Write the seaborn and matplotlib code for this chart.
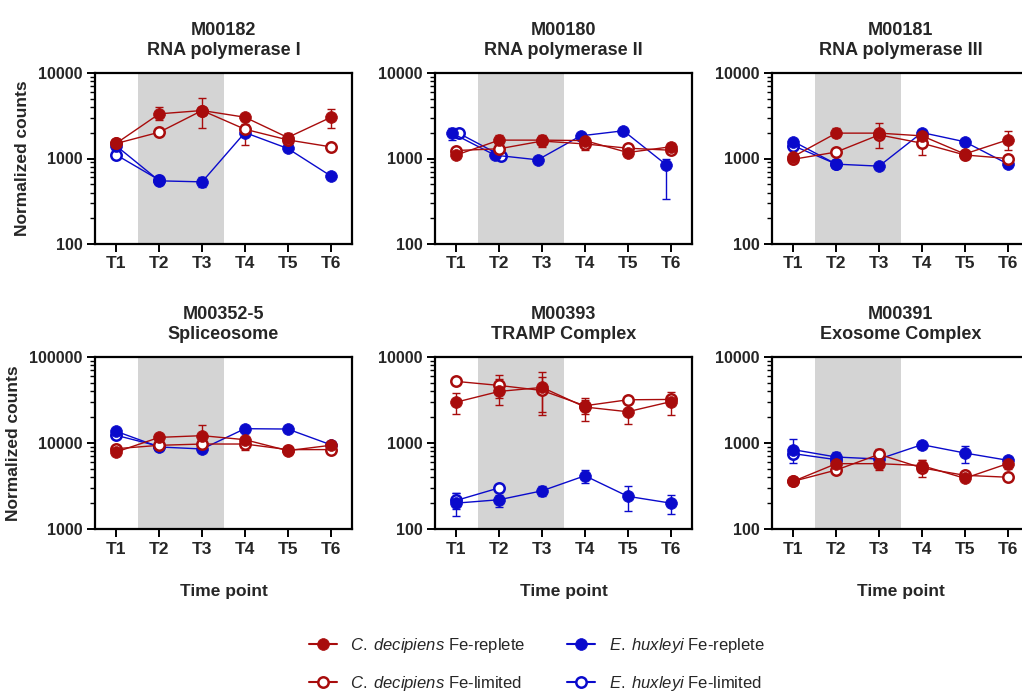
import numpy as np
import pandas as pd
import matplotlib
matplotlib.use("Agg")
import matplotlib.pyplot as plt
from matplotlib.lines import Line2D
from matplotlib.ticker import LogLocator, NullFormatter, FixedLocator, FixedFormatter
import seaborn as sns

nan = np.nan

# ---------------- data ----------------
time_labels = ["T1", "T2", "T3", "T4", "T5", "T6"]
panel_ids = ["M00182", "M00180", "M00181", "M00352-5", "M00393", "M00391"]
panel_names = ["RNA polymerase I", "RNA polymerase II", "RNA polymerase III",
               "Spliceosome", "TRAMP Complex", "Exosome Complex"]
panel_ylim = [(100, 10000), (100, 10000), (100, 10000),
              (1000, 100000), (100, 10000), (100, 10000)]

# C. decipiens Fe-replete
cd_rep = [[1510, 3330, 3640, 3040, 1760, 3020],
          [1100, 1640, 1640, 1620, 1175, 1370],
          [1055, 1980, 1980, 1840, 1130, 1650],
          [7870, 11630, 12170, 10930, 8150, 9400],
          [2990, 3980, 4430, 2620, 2310, 3020],
          [359, 575, 575, 546, 389, 575]]
cd_rep_lo = [[nan, 2850, 2300, 2750, 1550, 2270],
             [nan, 1420, 1350, 1450, nan, 1250],
             [nan, 1780, 1320, nan, nan, 1250],
             [nan, nan, 9500, nan, nan, nan],
             [2200, 2750, 2100, 1800, 1650, 2100],
             [nan, nan, 490, 460, nan, 500]]
cd_rep_hi = [[nan, 3950, 5100, 3350, 2000, 3800],
             [nan, 1880, 1900, 1750, nan, 1520],
             [nan, 2250, 2600, nan, nan, 2080],
             [nan, nan, 16000, nan, nan, nan],
             [3850, 5500, 6700, 3200, 2900, 3900],
             [nan, nan, 690, 640, nan, 640]]

# C. decipiens Fe-limited
cd_lim = [[1500, 2030, 3640, 2200, 1650, 1370],
          [1240, 1300, 1600, 1480, 1320, 1250],
          [980, 1190, 1890, 1510, 1100, 1000],
          [8590, 9400, 9730, 9730, 8380, 8380],
          [5200, 4670, 4080, 2710, 3180, 3210],
          [359, 485, 738, 513, 421, 400]]
cd_lim_lo = [[nan, nan, nan, 1450, nan, nan],
             [nan, nan, nan, 1270, nan, nan],
             [nan, nan, nan, 1100, nan, nan],
             [nan, nan, nan, 8300, nan, nan],
             [nan, 3300, 2300, 2200, nan, nan],
             [nan, nan, 620, 400, nan, nan]]
cd_lim_hi = [[nan, nan, nan, 2500, nan, nan],
             [nan, nan, nan, 1700, nan, nan],
             [nan, nan, nan, 1800, nan, nan],
             [nan, nan, nan, 10500, nan, nan],
             [nan, 6200, 5800, 3300, nan, nan],
             [nan, nan, 860, 640, nan, nan]]

# E. huxleyi Fe-replete
eh_rep = [[1400, 548, 533, 2010, 1310, 627],
          [1980, 1094, 965, 1840, 2110, 843],
          [1580, 859, 814, 2010, 1570, 866],
          [13650, 8990, 8520, 14670, 14530, 9560],
          [200, 219, 278, 416, 240, 200],
          [836, 687, 651, 956, 765, 630]]
eh_rep_lo = [[nan, nan, 470, nan, 1220, nan],
             [1650, nan, nan, nan, nan, 334],
             [nan, nan, nan, nan, nan, nan],
             [12700, nan, nan, nan, nan, nan],
             [140, 180, 245, 340, 160, 150],
             [nan, 610, nan, 880, 590, nan]]
eh_rep_hi = [[nan, nan, 600, nan, 1400, nan],
             [2300, nan, nan, nan, nan, 1000],
             [nan, nan, nan, nan, nan, nan],
             [14500, nan, nan, nan, nan, nan],
             [260, 250, 320, 480, 320, 250],
             [1120, 790, nan, 1040, 920, nan]]

# E. huxleyi Fe-limited (T1, T2 only)
eh_lim = [[1100, 560, nan, nan, nan, nan],
          [1980, 1075, nan, nan, nan, nan],
          [1410, 860, nan, nan, nan, nan],
          [12270, 9150, nan, nan, nan, nan],
          [215, 301, nan, nan, nan, nan],
          [752, 640, nan, nan, nan, nan]]
eh_lim_lo = [[nan] * 6, [nan] * 6, [nan] * 6, [nan] * 6,
             [170, nan, nan, nan, nan, nan],
             [580, nan, nan, nan, nan, nan]]
eh_lim_hi = [[nan] * 6, [nan] * 6, [nan] * 6, [nan] * 6,
             [260, nan, nan, nan, nan, nan],
             [nan, nan, nan, nan, nan, nan]]

legend_text = [r"$\it{C.\;decipiens}$ Fe-replete", r"$\it{C.\;decipiens}$ Fe-limited",
               r"$\it{E.\;huxleyi}$ Fe-replete", r"$\it{E.\;huxleyi}$ Fe-limited"]

# ---------------- style ----------------
sns.set_theme(style="ticks")
plt.rcParams["font.family"] = ["Liberation Sans", "DejaVu Sans"]
plt.rcParams["mathtext.fontset"] = "custom"
plt.rcParams["mathtext.it"] = "Liberation Sans:italic"
plt.rcParams["mathtext.rm"] = "Liberation Sans"

RED = "#A80C0C"
BLUE = "#0A0ACC"

series_style = {
    "cd_rep": dict(vals=cd_rep, lo=cd_rep_lo, hi=cd_rep_hi, color=RED, filled=True),
    "cd_lim": dict(vals=cd_lim, lo=cd_lim_lo, hi=cd_lim_hi, color=RED, filled=False),
    "eh_rep": dict(vals=eh_rep, lo=eh_rep_lo, hi=eh_rep_hi, color=BLUE, filled=True),
    "eh_lim": dict(vals=eh_lim, lo=eh_lim_lo, hi=eh_lim_hi, color=BLUE, filled=False),
}
draw_order = ["eh_lim", "eh_rep", "cd_lim", "cd_rep"]
# small horizontal dodge used in panel 2 of the original
x_shift = {(1, "eh_rep"): -0.1, (1, "eh_lim"): 0.05}

rows = []
for key, st in series_style.items():
    for p in range(6):
        for t in range(6):
            rows.append(dict(panel=p, series=key, t=t + 1,
                             y=st["vals"][p][t], lo=st["lo"][p][t], hi=st["hi"][p][t]))
df = pd.DataFrame(rows)

W, H = 1022, 695
fig = plt.figure(figsize=(W / 100, H / 100), dpi=100)

col_left = [95, 435, 772]
ax_w = 257
row_top = [73, 357]
ax_h = [171, 172]

FILLED_MS = 8.5
OPEN_MS = 7.5

axes = []
for p in range(6):
    r, c = divmod(p, 3)
    l = col_left[c] / W
    b = 1 - (row_top[r] + ax_h[r]) / H
    ax = fig.add_axes([l, b, ax_w / W, ax_h[r] / H])
    axes.append(ax)

    ax.axvspan(1.5, 3.5, color="#D4D4D4", lw=0, zorder=0)

    for key in draw_order:
        st = series_style[key]
        sub = df[(df.panel == p) & (df.series == key)].dropna(subset=["y"]).copy()
        sub["x"] = sub["t"] + x_shift.get((p, key), 0.0)
        eb = sub.dropna(subset=["lo", "hi"], how="all")
        if len(eb):
            lo = np.where(np.isnan(eb["lo"]), eb["y"], eb["lo"])
            hi = np.where(np.isnan(eb["hi"]), eb["y"], eb["hi"])
            ax.errorbar(eb["x"], eb["y"], yerr=[eb["y"] - lo, hi - eb["y"]],
                        fmt="none", ecolor=st["color"], elinewidth=1.0,
                        capsize=3, capthick=1.0, zorder=2)
        sns.lineplot(data=sub, x="x", y="y", ax=ax, color=st["color"],
                     linewidth=1.0, marker="o",
                     markersize=FILLED_MS if st["filled"] else OPEN_MS,
                     markerfacecolor=st["color"] if st["filled"] else "white",
                     markeredgecolor=st["color"],
                     markeredgewidth=0.5 if st["filled"] else 1.8,
                     errorbar=None, sort=False, zorder=3, legend=False)

    ax.set_yscale("log")
    ax.set_ylim(*panel_ylim[p])
    ax.set_xlim(0.5, 6.5)
    lo_, hi_ = panel_ylim[p]
    majors = [lo_, lo_ * 10, hi_]
    ax.yaxis.set_major_locator(FixedLocator(majors))
    ax.yaxis.set_major_formatter(FixedFormatter([str(int(v)) for v in majors]))
    ax.yaxis.set_minor_locator(LogLocator(base=10, subs=np.arange(2, 10)))
    ax.yaxis.set_minor_formatter(NullFormatter())
    ax.set_xticks(range(1, 7))
    ax.set_xticklabels(time_labels)

    for s in ax.spines.values():
        s.set_linewidth(1.6)
        s.set_color("black")
    ax.tick_params(axis="both", which="major", width=1.4,
                   length=6, color="black", pad=3)
    ax.tick_params(axis="y", which="major", labelsize=11.5)
    ax.tick_params(axis="x", which="major", labelsize=12.5)
    ax.tick_params(axis="y", which="minor", width=1.0, length=3.5, color="black")
    for lab in ax.get_xticklabels() + ax.get_yticklabels():
        lab.set_fontweight("bold")

    ax.set_title(f"{panel_ids[p]}\n{panel_names[p]}", fontsize=13, fontweight="bold",
                 pad=13, linespacing=1.25)
    if c == 0:
        ax.set_ylabel("Normalized counts", fontsize=12.5, fontweight="bold", labelpad=6)
    else:
        ax.set_ylabel("")
    if r == 1:
        ax.set_xlabel("Time point", fontsize=12.5, fontweight="bold", labelpad=20)
    else:
        ax.set_xlabel("")

# legend
handles = []
legend_order = ["cd_rep", "cd_lim", "eh_rep", "eh_lim"]
for key in legend_order:
    st = series_style[key]
    handles.append(Line2D([0], [0], color=st["color"], lw=1.5, marker="o",
                          markersize=FILLED_MS if st["filled"] else OPEN_MS,
                          markerfacecolor=st["color"] if st["filled"] else "white",
                          markeredgecolor=st["color"],
                          markeredgewidth=0.5 if st["filled"] else 1.8))

fig.legend(handles, legend_text, ncol=2, loc="center", bbox_to_anchor=(0.525, 0.044),
           frameon=False, fontsize=12, handlelength=1.7, handletextpad=0.8,
           columnspacing=2.5, labelspacing=1.15)

fig.savefig("out.png", dpi=100)
